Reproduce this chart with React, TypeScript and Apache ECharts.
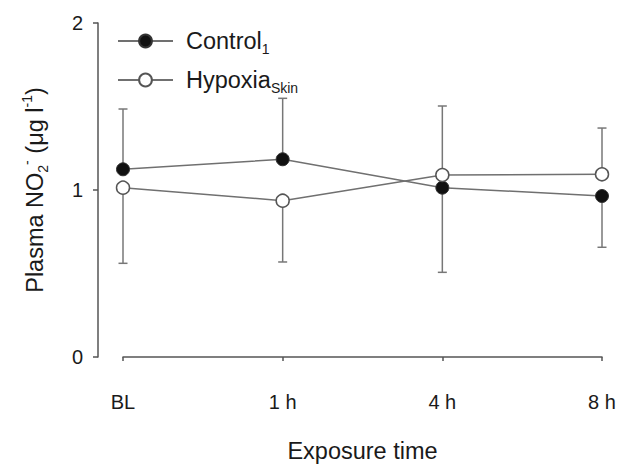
import React, { useEffect, useRef } from "react";
import * as echarts from "echarts";

const categories = ["BL", "1 h", "4 h", "8 h"];
const controlValues = [1.124, 1.184, 1.014, 0.964];
const hypoxiaValues = [1.014, 0.936, 1.09, 1.094];
// far end of the one-sided error bar for each point
const controlErrEnd = [1.485, 1.549, 0.507, 0.657];
const hypoxiaErrEnd = [0.561, 0.569, 1.503, 1.371];
const yTicks = { min: 0, max: 2, interval: 1 };

const FONT = '"Liberation Sans", Arial, Helvetica, sans-serif';
const LINE_COLOR = "#707070";
const AXIS_COLOR = "#555";

function errorSeries(name: string, means: number[], ends: number[]) {
  return {
    type: "custom",
    name,
    z: 1,
    silent: true,
    data: means.map((m, i) => [i, m, ends[i]]),
    renderItem: (params: any, api: any) => {
      const x = api.value(0);
      const p0 = api.coord([x, api.value(1)]);
      const p1 = api.coord([x, api.value(2)]);
      const hw = 4.5;
      const style = { stroke: "#777", lineWidth: 1.5 };
      return {
        type: "group",
        children: [
          { type: "line", shape: { x1: p0[0], y1: p0[1], x2: p1[0], y2: p1[1] }, style },
          { type: "line", shape: { x1: p1[0] - hw, y1: p1[1], x2: p1[0] + hw, y2: p1[1] }, style },
        ],
      };
    },
  };
}

export default function App() {
  const ref = useRef<HTMLDivElement>(null);
  useEffect(() => {
    if (!ref.current) return;
    const chart = echarts.init(ref.current, null, { renderer: "svg" });
    const rich = {
      a: { fontSize: 23.5, lineHeight: 30, color: "#1a1a1a", fontFamily: FONT },
      p: { fontSize: 23.5, lineHeight: 30, color: "#1a1a1a", fontFamily: FONT, padding: [0, 0, 0, 8] },
      sub: { fontSize: 14, lineHeight: 14, verticalAlign: "bottom", color: "#1a1a1a", fontFamily: FONT },
      sup: { fontSize: 14, lineHeight: 14, verticalAlign: "top", color: "#1a1a1a", fontFamily: FONT },
    };
    chart.setOption({
      animation: false,
      backgroundColor: "#fff",
      textStyle: { fontFamily: FONT },
      grid: { left: 123, right: 19, top: 23, bottom: 113 },
      legend: {
        data: ["Control", "Hypoxia"],
        orient: "vertical",
        left: 117,
        top: 29,
        padding: 0,
        itemWidth: 55,
        itemHeight: 16,
        itemGap: 12,
        selectedMode: false,
        formatter: (name: string) =>
          name === "Control" ? "{p|Control}{sub|1}" : "{p|Hypoxia}{sub|Skin}",
        textStyle: { rich },
      },
      xAxis: {
        type: "category",
        data: categories,
        boundaryGap: false,
        offset: 17,
        name: "Exposure time",
        nameLocation: "middle",
        nameGap: 65,
        nameTextStyle: { fontSize: 23.5, color: "#1a1a1a", fontFamily: FONT },
        axisLine: { lineStyle: { color: AXIS_COLOR, width: 1.5 } },
        axisTick: { length: 4, lineStyle: { color: AXIS_COLOR, width: 1.5 } },
        axisLabel: { fontSize: 20, color: "#1a1a1a", margin: 18, fontFamily: FONT },
        splitLine: { show: false },
      },
      yAxis: {
        type: "value",
        min: yTicks.min,
        max: yTicks.max,
        interval: yTicks.interval,
        offset: 25,
        name: "{a|Plasma NO}{sub|2}{sup|-}{a| (μg l}{sup|-1}{a|)}",
        nameLocation: "middle",
        nameGap: 48,
        nameTextStyle: { rich },
        axisLine: { show: true, lineStyle: { color: AXIS_COLOR, width: 1.5 } },
        axisTick: { show: true, length: 5, lineStyle: { color: AXIS_COLOR, width: 1.5 } },
        axisLabel: { fontSize: 20, color: "#1a1a1a", margin: 15, fontFamily: FONT },
        splitLine: { show: false },
      },
      series: [
        errorSeries("ctrlErr", controlValues, controlErrEnd),
        errorSeries("hypErr", hypoxiaValues, hypoxiaErrEnd),
        {
          type: "line",
          name: "Control",
          z: 3,
          data: controlValues,
          symbol: "circle",
          symbolSize: 13,
          lineStyle: { color: LINE_COLOR, width: 1.5 },
          itemStyle: { color: "#111", borderColor: "#333", borderWidth: 1 },
        },
        {
          type: "line",
          name: "Hypoxia",
          z: 4,
          data: hypoxiaValues,
          symbol: "circle",
          symbolSize: 13,
          lineStyle: { color: LINE_COLOR, width: 1.5 },
          itemStyle: { color: "#fff", borderColor: "#555", borderWidth: 1.5 },
        },
      ],
    });
    return () => chart.dispose();
  }, []);
  return (
    <div
      ref={ref}
      style={{ position: "fixed", left: 0, top: 0, width: 621, height: 470 }}
    />
  );
}
